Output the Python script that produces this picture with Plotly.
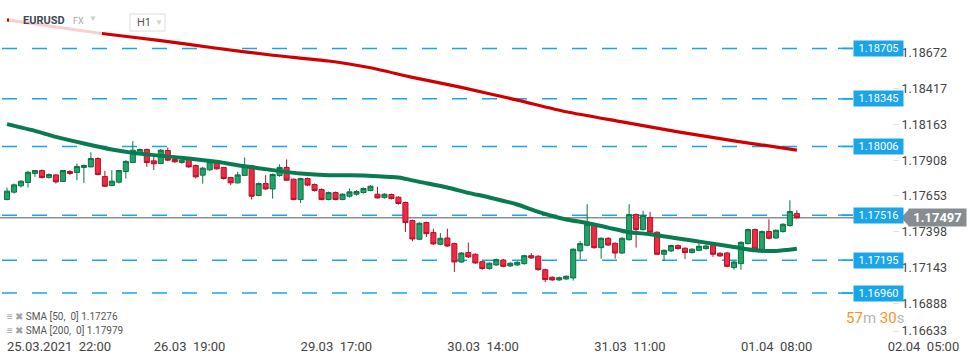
import plotly.graph_objects as go

# ---------------- data ----------------
time_labels = ["25.03.2021  22:00", "26.03  19:00", "29.03  17:00", "30.03  14:00",
               "31.03  11:00", "01.04  08:00", "02.04  05:00"]
time_label_idx = [0, 21, 42, 63, 84, 105, 126]

opens = [
    1.17627, 1.17680, 1.17725, 1.17749, 1.17813, 1.17834, 1.17784, 1.17803, 1.17756, 1.17827,
    1.17820, 1.17856, 1.17860, 1.17920, 1.17791, 1.17727, 1.17751, 1.17827, 1.17891, 1.17951,
    1.17984, 1.17903, 1.17884, 1.17977, 1.17913, 1.17891, 1.17913, 1.17870, 1.17801, 1.17839,
    1.17896, 1.17856, 1.17784, 1.17746, 1.17799, 1.17868, 1.17656, 1.17741, 1.17703, 1.17799,
    1.17856, 1.17772, 1.17627, 1.17777, 1.17734, 1.17699, 1.17627, 1.17677, 1.17627, 1.17651,
    1.17665, 1.17677, 1.17691, 1.17665, 1.17641, 1.17663, 1.17644, 1.17606, 1.17477, 1.17344,
    1.17463, 1.17392, 1.17308, 1.17353, 1.17313, 1.17182, 1.17249, 1.17237, 1.17184, 1.17135,
    1.17161, 1.17196, 1.17154, 1.17161, 1.17170, 1.17227, 1.17223, 1.17127, 1.17073, 1.17054,
    1.17061, 1.17068, 1.17261, 1.17301, 1.17451, 1.17284, 1.17351, 1.17315, 1.17246, 1.17341,
    1.17520, 1.17413, 1.17499, 1.17394, 1.17237, 1.17261, 1.17299, 1.17280, 1.17249, 1.17265,
    1.17277, 1.17299, 1.17244, 1.17246, 1.17142, 1.17170, 1.17313, 1.17413, 1.17265, 1.17399,
    1.17353, 1.17399, 1.17442, 1.17527]
highs = [
    1.17713, 1.17741, 1.17765, 1.17832, 1.17837, 1.17841, 1.17813, 1.17808, 1.17837, 1.17837,
    1.17884, 1.17877, 1.17963, 1.17927, 1.17832, 1.17837, 1.17837, 1.17908, 1.18044, 1.17991,
    1.17991, 1.17932, 1.17987, 1.17998, 1.17920, 1.17915, 1.17920, 1.17877, 1.17860, 1.17908,
    1.17908, 1.17860, 1.17789, 1.17825, 1.17927, 1.17875, 1.17749, 1.17801, 1.17813, 1.17879,
    1.17913, 1.17777, 1.17782, 1.17784, 1.17741, 1.17706, 1.17684, 1.17684, 1.17672, 1.17706,
    1.17694, 1.17713, 1.17730, 1.17718, 1.17672, 1.17670, 1.17651, 1.17613, 1.17484, 1.17465,
    1.17470, 1.17420, 1.17389, 1.17420, 1.17320, 1.17253, 1.17320, 1.17244, 1.17192, 1.17180,
    1.17206, 1.17204, 1.17180, 1.17187, 1.17234, 1.17246, 1.17230, 1.17135, 1.17080, 1.17078,
    1.17087, 1.17280, 1.17332, 1.17594, 1.17458, 1.17358, 1.17358, 1.17322, 1.17358, 1.17594,
    1.17527, 1.17546, 1.17539, 1.17401, 1.17273, 1.17306, 1.17306, 1.17287, 1.17280, 1.17318,
    1.17313, 1.17306, 1.17251, 1.17253, 1.17189, 1.17330, 1.17420, 1.17420, 1.17406, 1.17487,
    1.17415, 1.17458, 1.17622, 1.17551]
lows = [
    1.17622, 1.17670, 1.17713, 1.17713, 1.17789, 1.17777, 1.17777, 1.17741, 1.17751, 1.17801,
    1.17765, 1.17746, 1.17856, 1.17799, 1.17718, 1.17722, 1.17741, 1.17777, 1.17889, 1.17948,
    1.17860, 1.17837, 1.17879, 1.17901, 1.17889, 1.17884, 1.17853, 1.17777, 1.17741, 1.17832,
    1.17841, 1.17770, 1.17730, 1.17741, 1.17794, 1.17627, 1.17651, 1.17694, 1.17634, 1.17789,
    1.17760, 1.17622, 1.17603, 1.17722, 1.17684, 1.17622, 1.17622, 1.17622, 1.17622, 1.17641,
    1.17656, 1.17670, 1.17687, 1.17634, 1.17634, 1.17627, 1.17591, 1.17396, 1.17330, 1.17337,
    1.17361, 1.17304, 1.17301, 1.17289, 1.17111, 1.17175, 1.17211, 1.17168, 1.17127, 1.17127,
    1.17154, 1.17144, 1.17146, 1.17154, 1.17163, 1.17204, 1.17120, 1.17039, 1.17047, 1.17047,
    1.17054, 1.17049, 1.17201, 1.17294, 1.17277, 1.17206, 1.17296, 1.17206, 1.17239, 1.17334,
    1.17284, 1.17406, 1.17387, 1.17230, 1.17189, 1.17253, 1.17270, 1.17204, 1.17242, 1.17258,
    1.17270, 1.17218, 1.17218, 1.17144, 1.17127, 1.17127, 1.17306, 1.17268, 1.17246, 1.17344,
    1.17346, 1.17392, 1.17434, 1.17491]
closes = [
    1.17687, 1.17732, 1.17758, 1.17822, 1.17834, 1.17784, 1.17806, 1.17753, 1.17834, 1.17813,
    1.17863, 1.17870, 1.17920, 1.17806, 1.17722, 1.17758, 1.17834, 1.17899, 1.17979, 1.17984,
    1.17891, 1.17882, 1.17979, 1.17908, 1.17896, 1.17908, 1.17860, 1.17789, 1.17851, 1.17896,
    1.17846, 1.17777, 1.17746, 1.17803, 1.17868, 1.17651, 1.17741, 1.17703, 1.17806, 1.17856,
    1.17765, 1.17627, 1.17777, 1.17730, 1.17691, 1.17627, 1.17677, 1.17627, 1.17665, 1.17682,
    1.17684, 1.17706, 1.17722, 1.17639, 1.17665, 1.17634, 1.17599, 1.17463, 1.17346, 1.17458,
    1.17384, 1.17311, 1.17351, 1.17296, 1.17182, 1.17246, 1.17218, 1.17175, 1.17135, 1.17173,
    1.17199, 1.17151, 1.17173, 1.17180, 1.17227, 1.17211, 1.17127, 1.17056, 1.17054, 1.17070,
    1.17080, 1.17273, 1.17313, 1.17451, 1.17284, 1.17351, 1.17303, 1.17246, 1.17351, 1.17520,
    1.17413, 1.17513, 1.17394, 1.17237, 1.17265, 1.17299, 1.17277, 1.17249, 1.17273, 1.17294,
    1.17296, 1.17237, 1.17225, 1.17151, 1.17182, 1.17322, 1.17413, 1.17275, 1.17399, 1.17351,
    1.17408, 1.17451, 1.17542, 1.17497]

sma50_idx = [0, 4, 7, 11, 15, 18, 22, 26, 30, 34, 38, 42, 46, 49, 53, 56, 59, 63, 66, 69,
             73, 76, 80, 83, 86, 89, 92, 96, 100, 104, 107, 110, 113]
sma50_val = [1.18165, 1.18117, 1.18074, 1.18027, 1.17984, 1.17960, 1.17939, 1.17920, 1.17896,
             1.17865, 1.17837, 1.17813, 1.17801, 1.17801, 1.17794, 1.17784, 1.17753, 1.17713,
             1.17675, 1.17642, 1.17592, 1.17539, 1.17485, 1.17460, 1.17427, 1.17394, 1.17380,
             1.17349, 1.17320, 1.17289, 1.17265, 1.17260, 1.17276]
sma200_idx = [0, 13, 22, 30, 38, 46, 52, 58, 65, 73, 80, 88, 96, 104, 113]
sma200_val = [1.18908, 1.18815, 1.18760, 1.18706, 1.18656, 1.18615, 1.18567, 1.18498,
              1.18427, 1.18336, 1.18253, 1.18181, 1.18110, 1.18046, 1.17979]

levels = [1.18705, 1.18345, 1.18006, 1.17516, 1.17195, 1.16960]
current_price = 1.17497
y_tick_labels = ["1.16633", "1.16888", "1.17143", "1.17398", "1.17653",
                 "1.17908", "1.18163", "1.18417", "1.18672"]
legend_sma50 = "SMA [50,  0] 1.17276"
legend_sma200 = "SMA [200,  0] 1.17979"

# ---------------- layout geometry ----------------
W, H = 970, 364
B = 27
PH = H - B
Y_TOP, Y_BOT = 1.19050, 1.16647
PX_PER_CANDLE = 6.99
X0_PX = 7.0
x_range = [-X0_PX / PX_PER_CANDLE, (W - X0_PX) / PX_PER_CANDLE]
unit_per_px = (Y_TOP - Y_BOT) / PH

def px(x):
    return x / W

def py(y):
    return (PH - y) / PH

FONT = "Roboto, 'Open Sans', sans-serif"
BLUE = "#1aa5e8"

fig = go.Figure()

idx = list(range(len(opens)))
fig.add_trace(go.Candlestick(
    x=idx, open=opens, high=highs, low=lows, close=closes,
    increasing=dict(line=dict(color="#0c7347", width=1), fillcolor="#22a368"),
    decreasing=dict(line=dict(color="#b3122a", width=1), fillcolor="#ef2b43"),
    whiskerwidth=0, showlegend=False, hoverinfo="skip"))

fig.add_trace(go.Scatter(x=sma200_idx, y=sma200_val, mode="lines",
                         line=dict(color="#d10000", width=3.2, shape="spline", smoothing=0.6),
                         showlegend=False, hoverinfo="skip"))
fig.add_trace(go.Scatter(x=sma50_idx, y=sma50_val, mode="lines",
                         line=dict(color="#087c50", width=4, shape="spline", smoothing=0.6),
                         showlegend=False, hoverinfo="skip"))

shapes = []
annotations = []

# horizontal levels
for lv in levels:
    shapes.append(dict(type="line", xref="paper", yref="y", x0=px(2), x1=px(853), y0=lv, y1=lv,
                       line=dict(color=BLUE, width=1.5, dash="15px,15px"), layer="below"))
    shapes.append(dict(type="line", xref="paper", yref="y", x0=px(838), x1=px(853), y0=lv, y1=lv,
                       line=dict(color=BLUE, width=1.5), layer="below"))
    annotations.append(dict(xref="paper", yref="y", x=px(853), y=lv, xanchor="left", yanchor="middle",
                            text=f"{lv:.5f}", showarrow=False, bgcolor=BLUE, borderpad=2,
                            width=45, height=11,
                            font=dict(family=FONT, size=11, color="white")))

# current price line and tag
shapes.append(dict(type="line", xref="paper", yref="y", x0=0, x1=px(905), y0=current_price,
                   y1=current_price, line=dict(color="#8a8f93", width=1.5), layer="below"))
dy = 8.5 * unit_per_px
shapes.append(dict(type="path", xref="paper", yref="y",
                   path=f"M {px(901)} {current_price} L {px(909)} {current_price + dy} "
                        f"L {px(909)} {current_price - dy} Z",
                   fillcolor="#878c90", line=dict(width=0), layer="above"))
annotations.append(dict(xref="paper", yref="y", x=px(908), y=current_price, xanchor="left",
                        yanchor="middle", text=f"<b>{current_price:.5f}</b>", showarrow=False,
                        bgcolor="#878c90", borderpad=1, width=55, height=15,
                        font=dict(family=FONT, size=13, color="white")))

# fade behind the header
shapes.append(dict(type="rect", xref="paper", yref="paper", x0=px(9), x1=px(102), y0=py(36), y1=py(6),
                   fillcolor="rgba(255,255,255,0.82)", line=dict(width=0), layer="above"))
# H1 box
shapes.append(dict(type="rect", xref="paper", yref="paper", x0=px(130), x1=px(165), y0=py(31), y1=py(14),
                   fillcolor="white", line=dict(color="#dcdcdc", width=1), layer="above"))

annotations += [
    dict(xref="paper", yref="paper", x=px(21), y=py(20), xanchor="left", yanchor="middle",
         text="<b>EURUSD</b>", showarrow=False, font=dict(family=FONT, size=11, color="#3e4a52")),
    dict(xref="paper", yref="paper", x=px(71), y=py(21), xanchor="left", yanchor="middle",
         text="FX", showarrow=False, font=dict(family=FONT, size=9, color="#a8a8a8")),
    dict(xref="paper", yref="paper", x=px(87), y=py(19), xanchor="left", yanchor="middle",
         text="▼", showarrow=False, font=dict(family=FONT, size=8, color="#cfcfcf")),
    dict(xref="paper", yref="paper", x=px(135), y=py(22), xanchor="left", yanchor="middle",
         text="H1", showarrow=False, font=dict(family=FONT, size=11, color="#555")),
    dict(xref="paper", yref="paper", x=px(153), y=py(22), xanchor="left", yanchor="middle",
         text="▼", showarrow=False, font=dict(family=FONT, size=8, color="#cfcfcf")),
    # legend
    dict(xref="paper", yref="paper", x=px(5), y=py(316), xanchor="left", yanchor="middle",
         text="<span style='color:#a0a0a0'>≡ ✖</span> " + legend_sma50, showarrow=False,
         font=dict(family=FONT, size=10, color="#555")),
    dict(xref="paper", yref="paper", x=px(5), y=py(330), xanchor="left", yanchor="middle",
         text="<span style='color:#a0a0a0'>≡ ✖</span> " + legend_sma200, showarrow=False,
         font=dict(family=FONT, size=10, color="#555")),
    # countdown
    dict(xref="paper", yref="paper", x=px(844), y=py(318), xanchor="left", yanchor="middle",
         text="<span style='color:#f7941d'>57</span><span style='color:#b5b5b5'>m</span> "
              "<span style='color:#f7941d'>30</span><span style='color:#b5b5b5'>s</span>",
         showarrow=False, font=dict(family=FONT, size=15)),
]

tickvals = [float(t) for t in y_tick_labels]
tickvals = [max(v, Y_BOT + 6 * unit_per_px) for v in tickvals]

fig.update_layout(
    width=W, height=H,
    margin=dict(l=0, r=0, t=0, b=B, autoexpand=False),
    paper_bgcolor="white", plot_bgcolor="white",
    shapes=shapes, annotations=annotations,
    showlegend=False,
    boxgap=0.15, boxgroupgap=0.15,
    xaxis=dict(range=x_range, showgrid=False, zeroline=False, showline=False,
               automargin=False, rangeslider=dict(visible=False),
               tickmode="array", tickvals=time_label_idx, ticktext=time_labels,
               ticklabelposition="outside right", ticks="",
               tickfont=dict(family=FONT, size=13, color="#444")),
    yaxis=dict(range=[Y_BOT, Y_TOP], side="right", anchor="free", position=px(892),
               automargin=False,
               showgrid=False, zeroline=False, showline=False,
               tickmode="array", tickvals=tickvals, ticktext=y_tick_labels,
               ticks="outside", ticklen=6, tickcolor="#e3e3e3",
               tickfont=dict(family=FONT, size=12.5, color="#444")),
)

fig.write_html("out.html", config={"displayModeBar": False},
               post_script="document.body.style.margin='0';document.body.style.overflow='hidden';")
